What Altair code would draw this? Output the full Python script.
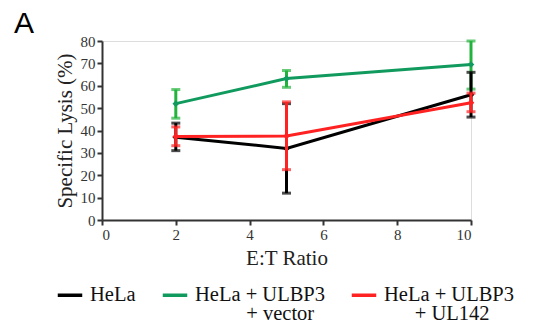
import altair as alt
import pandas as pd

# ---- data ----
ratios = [2, 5, 10]
series_names = ["HeLa", "HeLa + ULBP3 + vector", "HeLa + ULBP3 + UL142"]

hela_mean = [37.0, 32.0, 56.0]
hela_lo = [31.0, 12.0, 46.0]
hela_hi = [43.3, 52.0, 66.0]

vector_mean = [52.0, 63.2, 69.5]
vector_lo = [45.5, 59.3, 58.5]
vector_hi = [58.3, 66.8, 80.0]

ul142_mean = [37.3, 37.5, 52.4]
ul142_lo = [33.2, 22.5, 48.4]
ul142_hi = [41.6, 52.8, 56.7]

x_ticks = [0, 2, 4, 6, 8, 10]
y_ticks = [0, 10, 20, 30, 40, 50, 60, 70, 80]

line_colors = ["#000000", "#119a5e", "#ff2222"]
bar_colors = ["#000000", "#22b33c", "#ff2222"]

rows = []
for name, m, lo, hi in [
    (series_names[0], hela_mean, hela_lo, hela_hi),
    (series_names[1], vector_mean, vector_lo, vector_hi),
    (series_names[2], ul142_mean, ul142_lo, ul142_hi),
]:
    for r, a, b, c in zip(ratios, m, lo, hi):
        rows.append({"ratio": r, "series": name, "mean": a, "lo": b, "hi": c})
df = pd.DataFrame(rows)

serif = "'Liberation Serif', 'Times New Roman', Times, serif"

axis_style = dict(
    grid=False, domainColor="#333", domainWidth=2, tickColor="#333", tickWidth=2,
    tickSize=5, labelFont=serif, labelFontSize=15, labelColor="#333", labelPadding=2,
    titleFont=serif, titleFontSize=21, titleColor="#222", titleFontWeight="normal",
    titlePadding=5,
)

x_enc = alt.X("ratio:Q", title="E:T Ratio",
              scale=alt.Scale(domain=[0, 10], nice=False),
              axis=alt.Axis(values=x_ticks, **axis_style))
y_axis = alt.Axis(values=y_ticks, **axis_style)
y_scale = alt.Scale(domain=[0, 80], nice=False)

zw = "\u200b"
nb = "\u00a0"
label_expr = (
    "datum.label == 'HeLa' ? ['HeLa', '" + zw + "'] : ['HeLa + ULBP3', "
    "(indexof(datum.label, 'vector') > 0 ? '" + zw + nb * 10 + "' : '" + zw + nb * 6 + "') "
    "+ substring(datum.label, 13)]"
)

layers = []
for idx in [1, 0, 2]:
    name = series_names[idx]
    sub = df[df["series"] == name]
    base = alt.Chart(sub)
    line = base.mark_line(strokeWidth=3).encode(
        x=x_enc,
        y=alt.Y("mean:Q", title="Specific Lysis (%)", scale=y_scale, axis=y_axis),
        color=alt.Color("series:N",
                        scale=alt.Scale(domain=series_names, range=line_colors),
                        legend=alt.Legend(
                            orient="none", direction="horizontal", columns=3,
                            legendX=-46, legendY=240, title=None,
                            symbolType="stroke", symbolSize=600,
                            symbolStrokeWidth=3.5, columnPadding=19,
                            labelFont=serif, labelFontSize=20.5, labelColor="#111",
                            labelLimit=400, labelOffset=6,
                            labelExpr=label_expr,
                        )),
    )
    pts = base.mark_point(filled=True, shape="diamond", size=45, opacity=1).encode(
        x=x_enc, y=alt.Y("mean:Q", title="Specific Lysis (%)", scale=y_scale, axis=y_axis),
        color=alt.Color("series:N",
                        scale=alt.Scale(domain=series_names, range=line_colors),
                        legend=None),
    )
    bar_color = alt.value(bar_colors[idx])
    rule = base.mark_rule(strokeWidth=3).encode(
        x=x_enc, y=alt.Y("lo:Q", title="Specific Lysis (%)", scale=y_scale, axis=y_axis),
        y2="hi:Q", color=bar_color)
    cap_lo = base.mark_tick(thickness=3, size=9, orient="horizontal").encode(
        x=x_enc, y=alt.Y("lo:Q", title="Specific Lysis (%)", scale=y_scale, axis=y_axis),
        color=bar_color)
    cap_hi = base.mark_tick(thickness=3, size=9, orient="horizontal").encode(
        x=x_enc, y=alt.Y("hi:Q", title="Specific Lysis (%)", scale=y_scale, axis=y_axis),
        color=bar_color)
    layers += [line, rule, cap_lo, cap_hi, pts]

panel_label = alt.Chart(pd.DataFrame({"t": ["A"]})).mark_text(
    font="'Liberation Sans', Arial, sans-serif", fontSize=30, align="left",
    baseline="alphabetic", color="#000",
).encode(text="t:N", x=alt.value(-88), y=alt.value(-8))
layers.append(panel_label)

chart = alt.layer(*layers).properties(
    width=369, height=179,
    autosize=alt.AutoSizeParams(type="none"),
    padding={"left": 94, "top": 33, "right": 57, "bottom": 102},
).configure_view(stroke=None).configure_axis(
    labelFont=serif, titleFont=serif
).configure(style={"guide-label": {"lineHeight": 19}})

chart.save("out.html", embed_options={"renderer": "svg", "actions": False})
